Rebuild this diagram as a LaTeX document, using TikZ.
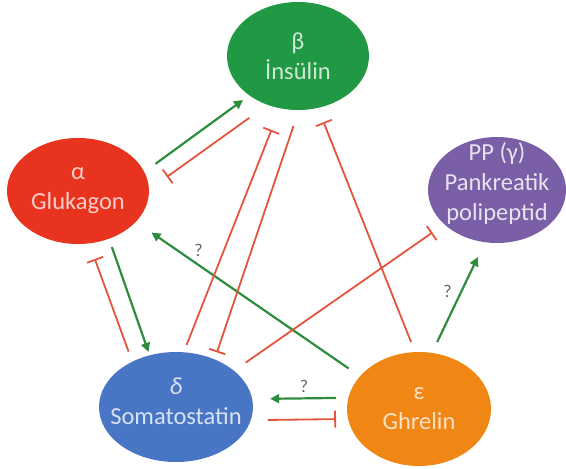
\documentclass[tikz,border=0pt]{standalone}
\usepackage{fontspec}
\setmainfont{Carlito}
\usetikzlibrary{shapes.geometric,arrows.meta}
\definecolor{Ins}{RGB}{33,152,68}
\definecolor{Glu}{RGB}{232,52,30}
\definecolor{Ppy}{RGB}{122,94,166}
\definecolor{Som}{RGB}{72,118,196}
\definecolor{Ghr}{RGB}{240,134,20}
\definecolor{Stim}{RGB}{46,140,62}
\definecolor{Inh}{RGB}{228,84,58}
\definecolor{QGray}{RGB}{100,100,100}
\tikzset{
  hnode/.style={ellipse,inner sep=0pt,outer sep=0pt},
  htext/.style={align=center,font=\fontsize{24.5}{30}\selectfont},
  hstim/.style={-{Triangle[length=9pt,width=9pt]},line width=2.2pt,draw=Stim},
  hinh/.style={-{Bar[width=17pt]},line width=1.8pt,draw=Inh},
  hq/.style={font=\fontsize{18}{18}\selectfont,text=QGray},
}

\begin{document}
\begin{tikzpicture}[x=1pt,y=-1pt]
  \useasboundingbox (0,0) rectangle (566,469);
  % hormone cells
  \node[hnode,fill=Ins,minimum width=142pt,minimum height=108pt,
        label={[htext,text=Ins!22!white]center:β\\İnsülin}] (beta) at (298,56) {};
  \node[hnode,fill=Glu,minimum width=142pt,minimum height=106pt,
        label={[htext,text=Glu!25!white]center:α\\Glukagon}] (alpha) at (78,191) {};
  \node[hnode,fill=Ppy,minimum width=138pt,minimum height=106pt,
        label={[htext,text=Ppy!18!white,yshift=6pt]center:PP (γ)\\Pankreatik\\polipeptid}] (pp) at (497,190) {};
  \node[hnode,fill=Som,minimum width=154pt,minimum height=110pt,
        label={[htext,text=Som!22!white,yshift=6pt]center:\textit{δ}\\Somatostatin}] (delta) at (176,407) {};
  \node[hnode,fill=Ghr,minimum width=144pt,minimum height=114pt,
        label={[htext,text=Ghr!25!white]center:ε\\Ghrelin}] (eps) at (419,409) {};

  % stimulation
  \draw[hstim,shorten <=13.9pt,shorten >=7.9pt] (alpha.16.9) -- (beta.219);
  \draw[hstim,shorten <=8.8pt,shorten >=3.6pt] (alpha.303.1) -- (delta.117.4);
  \draw[hstim,shorten <=13.9pt,shorten >=19pt] (eps.151.8) -- (alpha.332.7)
    node[hq,pos=.72,yshift=15pt] (q1) {?};
  \draw[hstim,shorten <=12.1pt,shorten >=16.4pt] (eps.77.2) -- (pp.257.2)
    node[hq,pos=.56,xshift=-14pt] (q2) {?};
  \draw[hstim,shorten <=12.4pt,shorten >=18pt] (eps.171.1) -- (delta.6.75)
    node[hq,pos=.46,yshift=12pt] (q3) {?};

  % inhibition
  \draw[hinh,shorten <=22.4pt,shorten >=22.1pt] (beta.238.8) -- (alpha.1);
  \draw[hinh,shorten <=7.8pt,shorten >=23.3pt] (delta.82.6) -- (beta.251.6);
  \draw[hinh,shorten <=16.9pt,shorten >=7.4pt] (beta.271.6) -- (delta.51.9);
  \draw[hinh,shorten <=10.8pt,shorten >=15.4pt] (eps.94) -- (beta.291.4);
  \draw[hinh,shorten <=14.4pt,shorten >=14.5pt] (delta.32.9) -- (pp.213.8);
  \draw[hinh,shorten <=10.7pt,shorten >=16.6pt] (delta.134.7) -- (alpha.282.3);
  \draw[hinh,shorten <=17pt,shorten >=12.1pt] (delta.350.9) -- (eps.188);
\end{tikzpicture}
\end{document}
